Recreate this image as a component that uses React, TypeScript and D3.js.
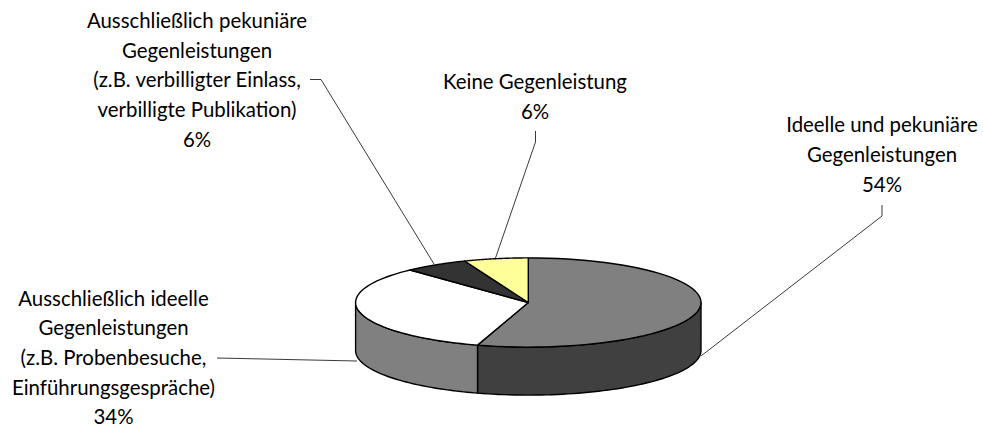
import React from "react";
import * as d3 from "d3";

const sliceValues = [54.75, 33.25, 6, 6];
const topColors = ["#808080", "#ffffff", "#333333", "#ffff99"];
const sideColors = ["#404040", "#808080", "#1a1a1a", "#808060"];

const labelBlocks = [
  { x: 882, y: 132.5, lines: ["Ideelle und pekuniäre", "Gegenleistungen", "54%"] },
  { x: 113.5, y: 305.8, lines: ["Ausschließlich ideelle", "Gegenleistungen", "(z.B. Probenbesuche,", "Einführungsgespräche)", "34%"] },
  { x: 197, y: 28.3, lines: ["Ausschließlich pekuniäre", "Gegenleistungen", "(z.B. verbilligter Einlass,", "verbilligte Publikation)", "6%"] },
  { x: 535, y: 89, lines: ["Keine Gegenleistung", "6%"] },
];

const leaderLines: [number, number][][] = [
  [[882, 205], [882, 216], [701, 356]],
  [[217, 358], [357, 361]],
  [[310, 79.5], [321, 79.5], [434, 264]],
  [[535.5, 131], [535.5, 142], [495.5, 258]],
];

const cx = 528.3;
const cy = 302.5;
const rx = 172.7;
const ry = 44.6;
const depth = 48;
const fontFamily = "Lato, sans-serif";
const fontSize = 21.6;
const textSqueeze = 0.945;
const lineHeight = 29.6;

export default function App() {
  const pie = d3.pie<number>().sort(null).value((d) => d);
  const arcs = pie(sliceValues);
  const xScale = d3.scaleLinear().domain([-1, 1]).range([cx - rx, cx + rx]);
  const yScale = d3.scaleLinear().domain([-1, 1]).range([cy - ry, cy + ry]);
  const pt = (a: number, dy = 0): [number, number] => [xScale(Math.sin(a)), yScale(-Math.cos(a)) + dy];
  const line = d3.line();
  const sample = (a0: number, a1: number, dy = 0) =>
    d3.range(0, 61).map((i) => pt(a0 + ((a1 - a0) * i) / 60, dy));

  const topPath = (a0: number, a1: number) =>
    line([[cx, cy], ...sample(a0, a1)]) + "Z";

  const sidePath = (a0: number, a1: number) => {
    const lo = Math.max(a0, Math.PI / 2);
    const hi = Math.min(a1, (3 * Math.PI) / 2);
    if (hi <= lo) return null;
    return line([...sample(lo, hi), ...sample(hi, lo, depth)]) + "Z";
  };

  return (
    <svg
      width={983}
      height={427}
      style={{ position: "absolute", left: 0, top: 0, background: "#fff" }}
      fontFamily={fontFamily}
      fontSize={fontSize}
    >
      {arcs.map((a, i) => {
        const d = sidePath(a.startAngle, a.endAngle);
        return d ? <path key={i} d={d} fill={sideColors[i]} stroke="#000" strokeWidth={1.4} strokeLinejoin="round" /> : null;
      })}
      {arcs.map((a, i) => (
        <path key={i} d={topPath(a.startAngle, a.endAngle)} fill={topColors[i]} stroke="#000" strokeWidth={1.4} strokeLinejoin="round" />
      ))}
      {leaderLines.map((l, i) => (
        <path key={i} d={line(l) ?? ""} fill="none" stroke="#222" strokeWidth={0.9} />
      ))}
      {labelBlocks.map((b, i) => (
        <text key={i} textAnchor="middle" fill="#000" transform={`scale(${textSqueeze},1)`}>
          {b.lines.map((t, j) => (
            <tspan key={j} x={b.x / textSqueeze} y={b.y + j * lineHeight}>{t}</tspan>
          ))}
        </text>
      ))}
    </svg>
  );
}
